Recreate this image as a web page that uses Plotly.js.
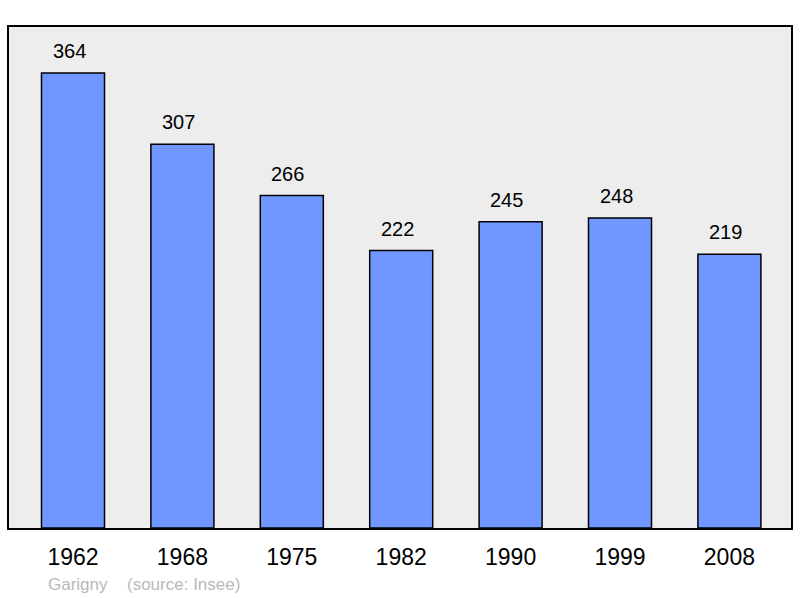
<!DOCTYPE html>
<html>
<head>
<meta charset="utf-8">
<script src="https://cdn.plot.ly/plotly-3.0.1.min.js"></script>
<style>
body { margin: 0; background: #fff; }
#chart { width: 800px; height: 598px; }
</style>
</head>
<body>
<div id="chart"></div>
<script>
var years = ["1962", "1968", "1975", "1982", "1990", "1999", "2008"]
var population = [364, 307, 266, 222, 245, 248, 219]
var place = "Garigny"
var source = "(source: Insee)"

var font = "Liberation Sans, Arial, sans-serif"

// value labels above the bars (category index as x)
var labels = years.map((y, i) => {
	return {
		x: i, y: population[i], text: String(population[i]),
		xref: "x", yref: "y", showarrow: false,
		yanchor: "bottom", yshift: 9, xshift: -4,
		font: {family: font, size: 20, color: "#000"}
	}
})

// footer
labels.push({
	x: (46 - 9) / 782, y: -0.1118, xref: "paper", yref: "paper", text: place,
	showarrow: false, xanchor: "left", yanchor: "middle",
	font: {family: font, size: 17, color: "#b9b9b9"}
})
labels.push({
	x: (125 - 9) / 782, y: -0.1118, xref: "paper", yref: "paper", text: source,
	showarrow: false, xanchor: "left", yanchor: "middle",
	font: {family: font, size: 17, color: "#b9b9b9"}
})

var data = [{
	x: years,
	y: population,
	type: "bar",
	width: 0.576,
	marker: {color: "#7097ff", line: {color: "#000", width: 1.5}},
	hoverinfo: "none"
}]

var layout = {
	width: 800,
	height: 598,
	margin: {l: 9, r: 9, t: 27, b: 70, pad: 0},
	paper_bgcolor: "#fff",
	plot_bgcolor: "#ededed",
	showlegend: false,
	xaxis: {
		type: "category",
		range: [-0.585, 6.563],
		showgrid: false, zeroline: false,
		showline: true, mirror: true, linecolor: "#000", linewidth: 2,
		ticks: "", ticklabelstandoff: 7,
		tickfont: {family: font, size: 23, color: "#000"}
	},
	yaxis: {
		range: [0, 400.8],
		showgrid: false, zeroline: false,
		showline: true, mirror: true, linecolor: "#000", linewidth: 2,
		showticklabels: false, ticks: ""
	},
	annotations: labels
}

Plotly.newPlot("chart", data, layout, {displayModeBar: false, staticPlot: true})
</script>
</body>
</html>
